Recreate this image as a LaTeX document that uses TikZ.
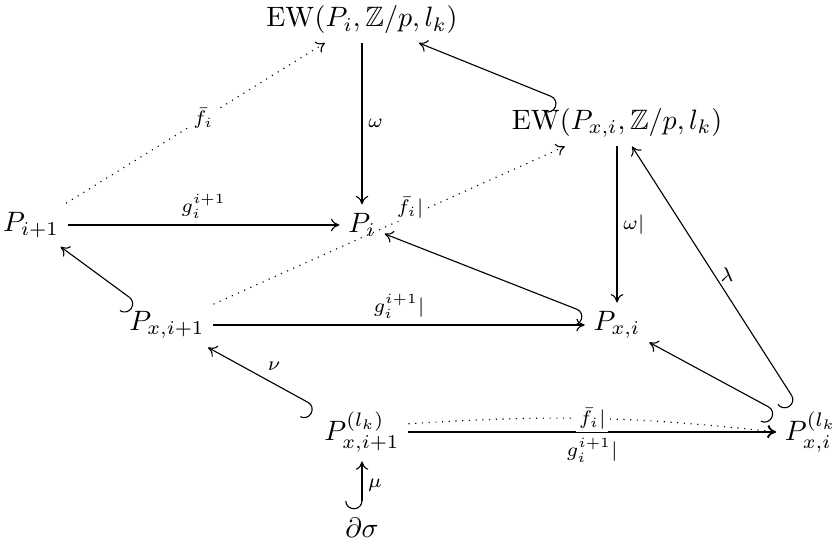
\documentclass[tikz,border=0pt]{standalone}
\usepackage{amsmath,amssymb}
\usetikzlibrary{arrows.meta}

\begin{document}
\begin{tikzpicture}[
    x=0.357pt,
    y=-0.357pt,
    obj/.style={inner sep=3pt},
    map/.style={-{To[length=3pt,width=4.5pt]}},
    hookmap/.style={{Hooks[right,length=3pt,width=12pt]}-{To[length=3pt,width=4.5pt]}},
    dotmap/.style={map, dotted},
    lbl/.style={font=\scriptsize, inner sep=2pt},
    descr/.style={font=\scriptsize, fill=white, inner sep=1pt}
  ]
    \useasboundingbox (0,0) rectangle (836,543);

    \node[obj] (ewp) at (362,20) {$\mathrm{EW}(P_i,\mathbb{Z}/p,l_k)$};
    \node[obj] (ewx) at (617,123) {$\mathrm{EW}(P_{x,i},\mathbb{Z}/p,l_k)$};
    \node[obj] (pii) at (31,225) {$P_{i+1}$};
    \node[obj] (pi) at (362,225) {$P_i$};
    \node[obj] (pxii) at (167,325) {$P_{x,i+1}$};
    \node[obj] (pxi) at (617,325) {$P_{x,i}$};
    \node[obj] (plii) at (362,432) {$P^{(l_k)}_{x,i+1}$};
    \node[obj] (pli) at (815,432) {$P^{(l_k)}_{x,i}$};
    \node[obj] (ds) at (362,528) {$\partial\sigma$};

    \draw[map] (ewp) -- node[lbl, right] {$\omega$} (pi);
    \draw[hookmap] (ewx) -- (ewp);
    \draw[dotmap] (pii) -- node[descr, pos=0.53] {$\bar{f}_i$} (ewp);
    \draw[map] (pii) -- node[lbl, above] {$g_i^{i+1}$} (pi);
    \draw[hookmap] (pxii) -- (pii);
    \draw[dotmap] (pxii) -- node[descr, pos=0.56, yshift=3pt] {$\bar{f}_i|$} (ewx);
    \draw[hookmap] (pxi) -- (pi);
    \draw[map] (ewx) -- node[lbl, right] {$\omega|$} (pxi);
    \draw[map] (pxii) -- node[lbl, above] {$g_i^{i+1}|$} (pxi);
    \draw[hookmap] (pli) -- node[lbl, right] {$\lambda$} (ewx);
    \draw[hookmap] (pli) -- (pxi);
    \draw[hookmap] (plii) -- node[lbl, above right] {$\nu$} (pxii);
    \draw[map] (plii) -- node[lbl, below] {$g_i^{i+1}|$} (pli);
    \draw[dotmap] (plii.10) to[bend left=5] node[descr] {$\bar{f}_i|$} (pli.west);
    \draw[hookmap] (ds) -- node[lbl, right] {$\mu$} (plii);
  \end{tikzpicture}
\end{document}
